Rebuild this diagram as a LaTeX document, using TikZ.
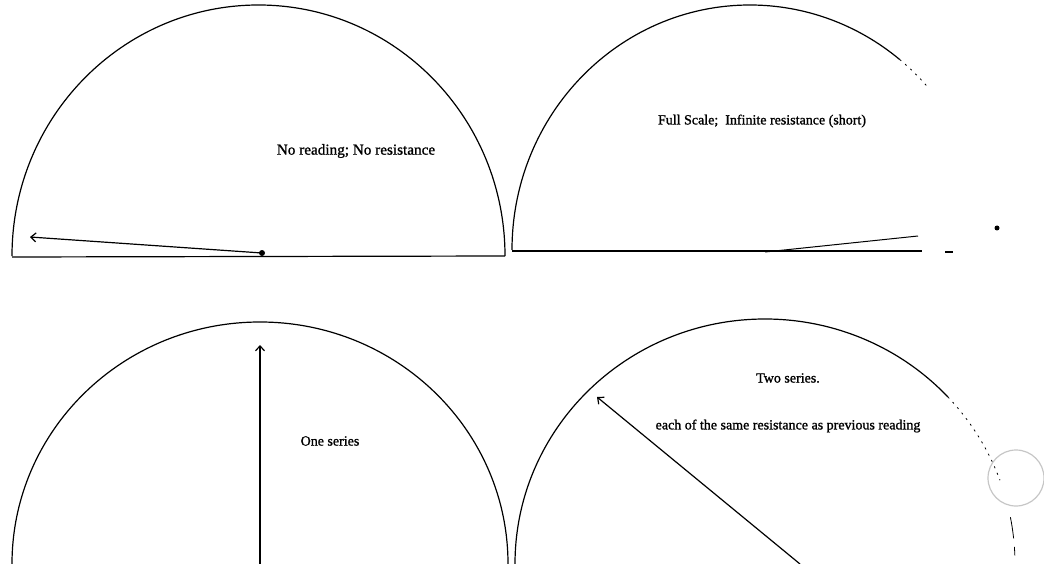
\documentclass[tikz,border=0pt]{standalone}
\usepackage{fontspec}
\setmainfont{Liberation Serif}
\newfontfamily\scanfont{Liberation Serif}[FakeBold=1.2]
\usetikzlibrary{arrows.meta}
\begin{document}
\begin{tikzpicture}[x=1pt, y=-1pt, line width=1.2pt,
    needle/.style={line width=1.2pt, -{Straight Barb[length=5pt, width=9pt]}},
    faint/.style={dash pattern=on 2pt off 5pt, line width=0.8pt},
    lbl/.style={font=\scanfont\fontsize{14}{16}\selectfont, inner sep=0pt},
    lblw/.style={lbl, font=\scanfont\fontsize{15.2}{17}\selectfont}]
  \useasboundingbox (0,0) rectangle (1044,564);
  % 左上の目盛り（振れなし）
  \draw (12,256) arc[start angle=180, end angle=360, x radius=246.5, y radius=251];
  \draw (12,257) -- (505,256);
  \coordinate (pivA) at (262,253);
  \coordinate (tipA) at (30,237);
  \draw[needle] (pivA) -- (tipA);
  \fill (pivA) circle (3);
  \node[lblw] (noread) at (356,151) {No reading; No resistance};
  % 右上の目盛り（フルスケール）
  \draw (512,250) arc[start angle=180, end angle=309, x radius=238, y radius=245];
  \draw[faint] (750,250) ++(309:238 and 245) arc[start angle=309, end angle=318, x radius=238, y radius=245];
  \draw (512,251) -- (922,251);
  \draw (945,252) -- (953,252);
  \coordinate (pivB) at (765,252);
  \coordinate (tipB) at (918,236);
  \draw[line width=1pt] (pivB) -- (tipB);
  \fill (997,228) circle (2.5);
  \node[lbl] (fullsc) at (762,121) {Full Scale;\ \ Infinite resistance (short)};
  % 左下の目盛り（直列1個）
  \draw (12,564) arc[start angle=180, end angle=360, x radius=248, y radius=242];
  \coordinate (pivC) at (260,564);
  \coordinate (tipC) at (260,345);
  \draw[needle] (pivC) -- (tipC);
  \node[lbl] (oneser) at (330,441) {One series};
  % 右下の目盛り（直列2個）
  \draw (515,564) arc[start angle=180, end angle=317, x radius=250, y radius=245];
  \draw[faint] (765,564) ++(317:250 and 245) arc[start angle=317, end angle=340, x radius=250, y radius=245];
  \draw[line width=0.8pt] (765,564) ++(349:250 and 245) arc[start angle=349, end angle=354, x radius=250, y radius=245];
  \draw[line width=0.8pt] (765,564) ++(356:250 and 245) arc[start angle=356, end angle=358, x radius=250, y radius=245];
  \coordinate (pivD) at (800,564);
  \coordinate (tipD) at (597,397);
  \draw[needle] (pivD) -- (tipD);
  \draw[gray!45, line width=1.2pt] (1016,478) circle (28);
  \node[lbl] (twoser) at (788,378) {Two series.};
  \node[lbl] (eachof) at (788,426) {each of the same resistance as previous reading};
\end{tikzpicture}
\end{document}
